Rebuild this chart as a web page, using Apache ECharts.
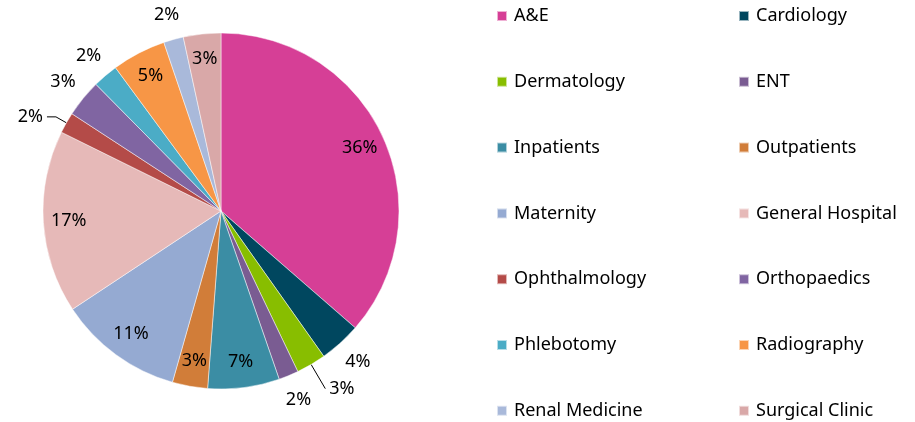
<!DOCTYPE html>
<html style="height: 100%">
<head>
<meta charset="utf-8">
<title>Attendances by department</title>
<script src="https://cdn.jsdelivr.net/npm/echarts@6/dist/echarts.min.js"></script>
</head>
<body style="height: 100%; margin: 0; background: #fff">
	<div id="container" style="width: 915px; height: 422px"></div>
	<script type="text/javascript">
		// departments, shares (percent of total) and colours
		var departments = ['A&E', 'Cardiology', 'Dermatology', 'ENT', 'Inpatients', 'Outpatients', 'Maternity',
			'General Hospital', 'Ophthalmology', 'Orthopaedics', 'Phlebotomy', 'Radiography', 'Renal Medicine', 'Surgical Clinic'];
		var shares = [36.4, 3.8, 2.7, 1.8, 6.5, 3.2, 11.3, 16.6, 1.9, 3.4, 2.3, 4.9, 1.8, 3.4];
		var colors = ['#D63F96', '#00475F', '#88BE00', '#7A5C92', '#3B8DA4', '#D17D39', '#95AAD2',
			'#E6B9B8', '#B44B48', '#8065A2', '#4BACC6', '#F79646', '#A9B9DA', '#D9A8A8'];
		// where each percentage label sits: inside the slice, just outside it, or outside with a leader line
		var labelPlace = ['in', 'out', 'line', 'out', 'in', 'in', 'in', 'in', 'line', 'out', 'out', 'in', 'out', 'in'];

		var FONT = '"Noto Sans", sans-serif';
		var CX = 221, CY = 211, R = 178;

		var myChart = echarts.init(document.getElementById('container'));

		function pct(p) {
			return Math.round(p.percent) + '%';
		}

		// build the data for one series, showing labels only where "place" matches
		function buildData(place, extra) {
			var res = [];
			for (var i = 0; i < departments.length; i++) {
				var item = {
					name : departments[i],
					value : shares[i],
					itemStyle : { color : colors[i] },
					label : { show : labelPlace[i] === place }
				};
				if (extra) extra(item, i);
				res.push(item);
			}
			return res;
		}

		// main pie; the two leader-line labels belong to it
		var mainData = buildData('line', function(item, i) {
			if (labelPlace[i] !== 'line') return;
			item.labelLine = departments[i] === 'Dermatology'
				? { show : true, length : 28, length2 : 0 }
				: { show : true, length : 12, length2 : 9 };
		});

		// transparent copies used only to place labels at the right distance
		var ghost = function(item) {
			item.itemStyle = { color : 'rgba(0,0,0,0)', borderWidth : 0 };
		};

		function legendCol(left, parity) {
			return {
				orient : 'vertical',
				left : left,
				top : 7,
				padding : 0,
				itemWidth : 10,
				itemHeight : 10,
				itemGap : 47.8,
				icon : 'rect',
				selectedMode : false,
				textStyle : { fontFamily : FONT, fontSize : 18, color : '#000', lineHeight : 18, padding : [0, 0, 0, 2] },
				data : departments.filter(function(d, i) { return i % 2 === parity; })
			};
		}

		var option = {
			animation : false,
			color : colors,
			legend : [ legendCol(496, 0), legendCol(738, 1) ],
			series : [ {
				name : 'Departments',
				type : 'pie',
				center : [CX, CY],
				radius : [0, R],
				startAngle : 90,
				clockwise : true,
				avoidLabelOverlap : false,
				silent : true,
				itemStyle : { borderColor : 'rgba(255,255,255,0.6)', borderWidth : 0.8 },
				label : {
					position : 'outside',
					formatter : pct,
					fontFamily : FONT,
					fontSize : 18,
					color : '#000',
					distanceToLabelLine : 4
				},
				labelLine : { show : false, lineStyle : { color : '#000', width : 1 }, smooth : false },
				data : mainData
			}, {
				name : 'inner labels',
				type : 'pie',
				center : [CX, CY],
				radius : [121, R],
				startAngle : 90,
				avoidLabelOverlap : false,
				silent : true,
				legendHoverLink : false,
				label : { position : 'inside', formatter : pct, fontFamily : FONT, fontSize : 18, color : '#000' },
				labelLine : { show : false },
				data : buildData('in', ghost)
			}, {
				name : 'outer labels',
				type : 'pie',
				center : [CX, CY],
				radius : [188, 214],
				startAngle : 90,
				avoidLabelOverlap : false,
				silent : true,
				legendHoverLink : false,
				label : { position : 'inside', formatter : pct, fontFamily : FONT, fontSize : 18, color : '#000' },
				labelLine : { show : false },
				data : buildData('out', ghost)
			} ]
		};

		myChart.setOption(option);
	</script>
</body>
</html>
